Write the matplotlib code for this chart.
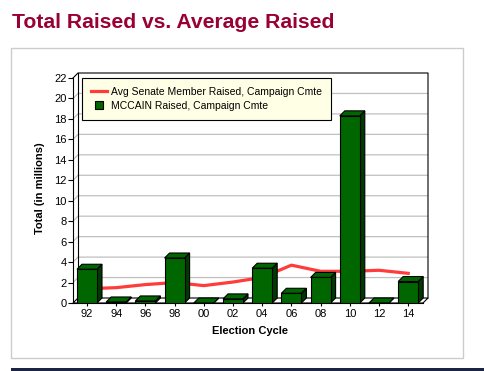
import matplotlib
matplotlib.use('Agg')
import matplotlib.pyplot as plt
from matplotlib.patches import Polygon, Rectangle
from matplotlib.lines import Line2D

plt.rcParams['font.family'] = ['Liberation Sans', 'DejaVu Sans']

# data (millions of dollars)
cycles = ['92', '94', '96', '98', '00', '02', '04', '06', '08', '10', '12', '14']
mccain = [3.3, 0.1, 0.2, 4.4, 0.0, 0.4, 3.4, 0.95, 2.5, 18.3, 0.0, 2.1]
avg_senate = [1.4, 1.5, 1.8, 2.0, 1.7, 2.05, 2.5, 3.7, 3.1, 3.1, 3.2, 2.9]
yticks = list(range(0, 23, 2))

W, H = 485, 371
fig = plt.figure(figsize=(W / 100, H / 100), dpi=100)

# plot area in pixels (front plane left/bottom, back wall right/top)
left_px, right_px, top_px, bot_px = 73, 428, 73, 303
ax = fig.add_axes([left_px / W, 1 - bot_px / H,
                   (right_px - left_px) / W, (bot_px - top_px) / H])

px_x = 29.2          # pixels per category
px_y = 225 / 22.0    # pixels per million
depth = 5            # 3d depth in pixels
dx = depth / px_x
dy = depth / px_y
x0 = -(87 - left_px) / px_x
xr = x0 + (right_px - left_px) / px_x
x1 = xr - dx
ytop = 22 + dy
ax.set_xlim(x0, xr)
ax.set_ylim(0, ytop)

for s in ['top', 'right']:
    ax.spines[s].set_visible(False)
ax.spines['left'].set_bounds(0, 22)
ax.spines['bottom'].set_bounds(x0, x1)
ax.spines['left'].set_linewidth(0.8)
ax.spines['bottom'].set_linewidth(0.8)

ax.set_yticks(yticks)
ax.set_yticklabels([str(v) for v in yticks])
ax.set_xticks(range(len(cycles)))
ax.set_xticklabels(cycles)
ax.tick_params(axis='y', length=3.5, width=0.8, pad=1, labelsize=8)
ax.tick_params(axis='x', length=2.5, width=0.8, pad=2, labelsize=8)

# back wall + gridlines
for v in yticks[1:-1]:
    ax.plot([x0, x0 + dx, xr], [v, v + dy, v + dy], color='#c0c0c0', lw=0.9, zorder=1)
ax.plot([x0, x0 + dx, xr, xr], [22, ytop, ytop, dy], color='black', lw=0.8,
        zorder=2, clip_on=False)
ax.plot([x0 + dx, x0 + dx], [dy, ytop], color='black', lw=0.8, zorder=2, clip_on=False)

# floor
floor = Polygon([(x0, 0), (x1, 0), (xr, dy), (x0 + dx, dy)], closed=True,
                facecolor='white', edgecolor='black', lw=0.8, zorder=2, clip_on=False)
ax.add_patch(floor)

# average line sits behind the bars
ax.plot(range(len(cycles)), avg_senate, color='#ff3b3b', lw=2.3, zorder=3,
        solid_joinstyle='round')

# 3d bars
w = 20 / px_x
for i, h in enumerate(mccain):
    l = i - w / 2
    side = Polygon([(l + w, 0), (l + w + dx, dy), (l + w + dx, h + dy), (l + w, h)],
                   closed=True, facecolor='#003a00', edgecolor='black', lw=0.8, zorder=4)
    top = Polygon([(l, h), (l + w, h), (l + w + dx, h + dy), (l + dx, h + dy)],
                  closed=True, facecolor='#006600', edgecolor='black', lw=0.8, zorder=4)
    front = Rectangle((l, 0), w, h, facecolor='#006600', edgecolor='black', lw=0.8, zorder=5)
    ax.add_patch(side)
    ax.add_patch(top)
    ax.add_patch(front)

ax.set_ylabel('Total (in millions)', fontsize=8, fontweight='bold', labelpad=7)
ax.set_xlabel('Election Cycle', fontsize=8, fontweight='bold', labelpad=5)

handles = [Line2D([0], [0], color='#ff3b3b', lw=2.3),
           Line2D([0], [0], ls='none', marker='s', markersize=5.5,
                  markerfacecolor='#006600', markeredgecolor='black', markeredgewidth=0.8)]
leg = ax.legend(handles, ['Avg Senate Member Raised, Campaign Cmte',
                          'MCCAIN Raised, Campaign Cmte'],
                loc='upper left', bbox_to_anchor=(82 / W, 1 - 78 / H),
                bbox_transform=fig.transFigure, borderaxespad=0, fontsize=7.5,
                fancybox=False, framealpha=1, facecolor='#ffffe6', edgecolor='black',
                handlelength=1.55, handletextpad=0.4, borderpad=0.85, labelspacing=0.4)
leg.get_frame().set_linewidth(0.8)
leg.set_zorder(10)

# page decoration: title, panel border, bottom rule
fig.text(12 / W, 1 - 22 / H, 'Total Raised vs. Average Raised', fontsize=15.2,
         fontweight='bold', color='#990033', ha='left', va='center')
fig.add_artist(Rectangle((11 / W, 1 - 357.5 / H), 452 / W, 310 / H,
                         transform=fig.transFigure, fill=False, ec='#cccccc', lw=1))
fig.add_artist(Rectangle((11 / W, 0), (W - 11) / W, 2.6 / H,
                         transform=fig.transFigure, fc='#1c2444', ec='none'))

fig.savefig('out.png', dpi=100)
